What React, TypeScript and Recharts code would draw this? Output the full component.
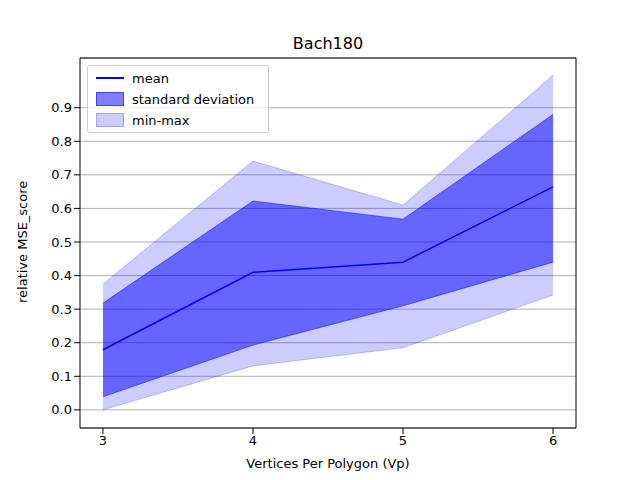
import React from "react";
import { ComposedChart, Area, Line, XAxis, YAxis, CartesianGrid } from "recharts";

const vertices = [3, 4, 5, 6];
const meanVals = [0.179, 0.41, 0.44, 0.664];
const stdLow = [0.039, 0.193, 0.31, 0.44];
const stdHigh = [0.318, 0.622, 0.568, 0.88];
const minVals = [0.0, 0.131, 0.185, 0.342];
const maxVals = [0.375, 0.741, 0.61, 0.997];
const yTicks = [0, 0.1, 0.2, 0.3, 0.4, 0.5, 0.6, 0.7, 0.8, 0.9];

const data = vertices.map((v, i) => ({
  v,
  mean: meanVals[i],
  std: [stdLow[i], stdHigh[i]],
  range: [minVals[i], maxVals[i]],
}));

const font = "DejaVu Sans, sans-serif";

export default function App() {
  return (
    <div style={{ position: "absolute", left: 0, top: 0, width: 640, height: 480, background: "#fff", fontFamily: font }}>
      <ComposedChart width={640} height={480} data={data} margin={{ top: 58, right: 64, bottom: 0, left: 0 }}>
        <CartesianGrid horizontal vertical={false} stroke="#b0b0b0" />
        <XAxis
          dataKey="v"
          type="number"
          domain={[2.847, 6.153]}
          ticks={vertices}
          height={52}
          tick={{ fontSize: 13, fill: "#000", fontFamily: font }}
          tickLine={{ stroke: "#000" }}
          axisLine={{ stroke: "#000" }}
          label={{ value: "Vertices Per Polygon (Vp)", position: "insideBottom", offset: 12, fontSize: 13, fill: "#000", fontFamily: font }}
        />
        <YAxis
          type="number"
          domain={[-0.054, 1.048]}
          ticks={yTicks}
          width={80}
          tickFormatter={(t: number) => t.toFixed(1)}
          tick={{ fontSize: 13, fill: "#000", fontFamily: font }}
          tickLine={{ stroke: "#000" }}
          axisLine={{ stroke: "#000" }}
          label={{ value: "relative MSE_score", angle: -90, position: "insideLeft", offset: 22, dy: 60, fontSize: 13, fill: "#000", fontFamily: font }}
        />
        <Area dataKey="range" type="linear" fill="#0000ff" fillOpacity={0.2} stroke="#0000ff" strokeOpacity={0.2} isAnimationActive={false} />
        <Area dataKey="std" type="linear" fill="#0000ff" fillOpacity={0.5} stroke="#0000ff" strokeOpacity={0.5} isAnimationActive={false} />
        <Line dataKey="mean" type="linear" stroke="#0000ff" strokeWidth={1.5} dot={false} isAnimationActive={false} />
        <line x1={80} y1={58} x2={576} y2={58} stroke="#000" />
        <line x1={576} y1={58} x2={576} y2={428} stroke="#000" />
      </ComposedChart>
      <div style={{ position: "absolute", top: 34, left: 0, width: 656, textAlign: "center", fontSize: 16 }}>Bach180</div>
      <div style={{ position: "absolute", left: 87, top: 65, width: 180, height: 66, border: "1px solid #ccc", borderRadius: 3, background: "rgba(255,255,255,0.8)", fontSize: 13 }}>
        {[
          { label: "mean", kind: "line" },
          { label: "standard deviation", kind: "std" },
          { label: "min-max", kind: "range" },
        ].map((it, i) => (
          <div key={i} style={{ position: "absolute", left: 8, top: 3 + i * 21, height: 18, display: "flex", alignItems: "center" }}>
            {it.kind === "line" ? (
              <div style={{ width: 28, height: 2, background: "#0000ff", marginRight: 8 }} />
            ) : (
              <div style={{ width: 26, height: 12, background: it.kind === "std" ? "rgba(0,0,255,0.5)" : "rgba(0,0,255,0.2)", border: `1px solid ${it.kind === "std" ? "rgba(0,0,255,0.5)" : "rgba(0,0,255,0.2)"}`, marginRight: 8 }} />
            )}
            <span>{it.label}</span>
          </div>
        ))}
      </div>
    </div>
  );
}
